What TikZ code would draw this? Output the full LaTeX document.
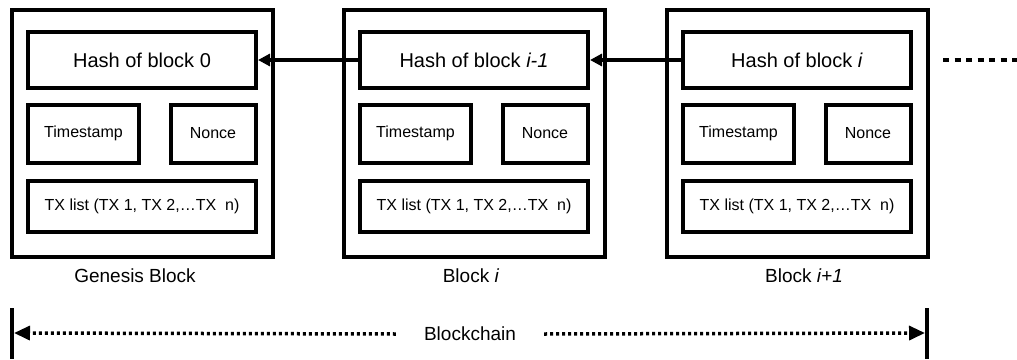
\documentclass[tikz,border=0pt]{standalone}
\usepackage{fontspec}
\setmainfont{Liberation Sans}
\usetikzlibrary{arrows.meta}

\tikzset{
  box/.style={draw, line width=4pt, inner sep=0pt, rectangle},
  hashtext/.style={font=\fontsize{20}{24}\selectfont},
  smalltext/.style={font=\fontsize{16}{19}\selectfont},
  caption/.style={font=\fontsize{19}{23}\selectfont, anchor=base, inner sep=0pt},
  link/.style={line width=3.5pt, -{Triangle[length=12pt, width=12pt]}},
  span/.style={line width=3.5pt, dash pattern=on 3pt off 3pt, -{Triangle[length=16pt, width=14pt]}},
  bar/.style={line width=4pt},
}

% One block of the chain: #1 = node prefix, #2 = left x, #3 = hash label
\newcommand\chainblock[3]{%
  \node[box, minimum width=261pt, minimum height=247pt] (#1-outer) at (#2+132,133) {};
  \node[box, hashtext, minimum width=228pt, minimum height=56pt] (#1-hash) at (#2+132,60) {#3};
  \node[box, smalltext, minimum width=111pt, minimum height=58pt] (#1-ts) at (#2+73.5,133.5) {Timestamp};
  \node[box, smalltext, minimum width=85pt, minimum height=58pt] (#1-nonce) at (#2+203,133.5) {Nonce};
  \node[box, smalltext, minimum width=228pt, minimum height=51pt] (#1-tx) at (#2+132,206) {TX list (TX 1, TX 2,\ldots TX\ \ n)};
}

\begin{document}
\begin{tikzpicture}[x=1pt, y=-1pt]
  \useasboundingbox (0,0) rectangle (1017,359);

  \chainblock{b1}{10}{Hash of block 0}
  \chainblock{b2}{342}{Hash of block \textit{i-1}}
  \chainblock{b3}{665}{Hash of block \textit{i}}

  % back-links between blocks
  \draw[link] (b2-hash.west) -- (b1-hash.east);
  \draw[link] (b3-hash.west) -- (b2-hash.east);

  % continuation of the chain
  \coordinate (more-start) at (943,60);
  \coordinate (more-end) at (1017,60);
  \draw[line width=3.5pt, dash pattern=on 6pt off 5.5pt] (more-start) -- (more-end);

  % block captions
  \node[caption] (cap1) at (135,282) {Genesis Block};
  \node[caption] (cap2) at (471,282) {Block \textit{i}};
  \node[caption] (cap3) at (804,282) {Block \textit{i+1}};

  % extent of the whole chain
  \coordinate (left-top) at (12,308);
  \coordinate (left-bot) at (12,359);
  \coordinate (right-top) at (927,308);
  \coordinate (right-bot) at (927,359);
  \coordinate (left-tip) at (14,333);
  \coordinate (right-tip) at (925,333);
  \draw[bar] (left-top) -- (left-bot);
  \draw[bar] (right-top) -- (right-bot);
  \node[font=\fontsize{19}{23}\selectfont, inner xsep=28pt, inner ysep=0pt] (chain) at (470,334) {Blockchain};
  \draw[span] (chain.west) -- (left-tip);
  \draw[span] (chain.east) -- (right-tip);
\end{tikzpicture}
\end{document}
